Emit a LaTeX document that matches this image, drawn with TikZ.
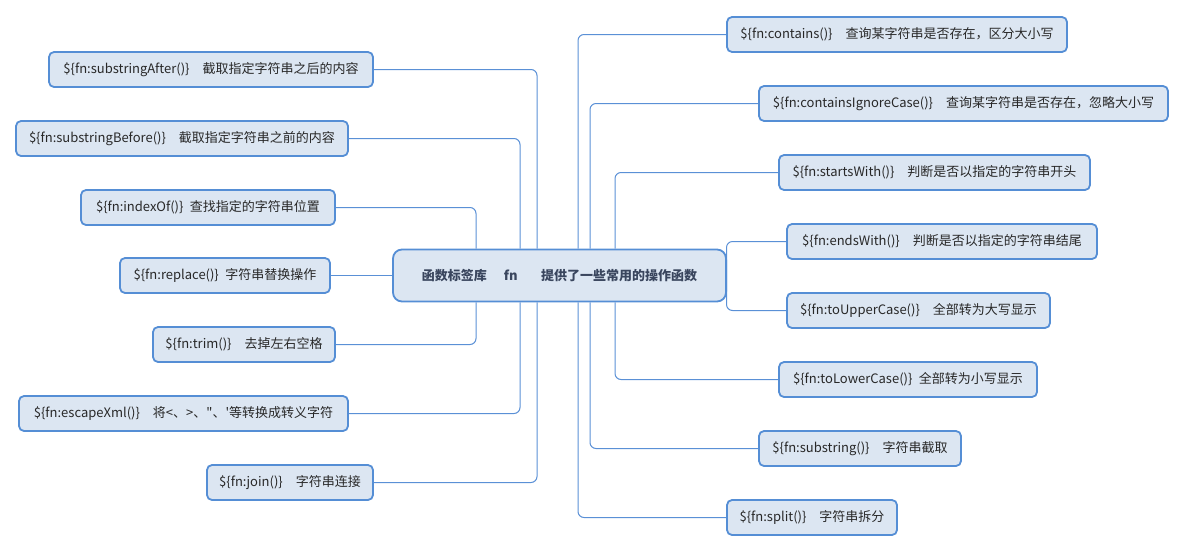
\documentclass[tikz,border=0pt]{standalone}
\usepackage{fontspec}
\setmainfont{Noto Sans CJK SC}
\usetikzlibrary{backgrounds}

\definecolor{boxfill}{RGB}{220,230,242}
\definecolor{boxline}{RGB}{85,142,213}
\definecolor{linkline}{RGB}{90,144,214}
\definecolor{fntext}{RGB}{40,40,40}
\definecolor{roottext}{RGB}{58,70,94}

\tikzset{every picture/.style={line width=0.75pt},
  fnbox/.style={draw=boxline, line width=1.8pt, fill=boxfill, rounded corners=5pt,
    minimum height=35pt, inner xsep=0pt, text=fntext, font=\fontsize{13}{15}\selectfont},
  rootbox/.style={fnbox, rounded corners=9pt, minimum height=52pt, minimum width=333pt,
    text=roottext, font=\bfseries\fontsize{13}{15}\selectfont},
  link/.style={draw=linkline, line width=1pt, rounded corners=6pt}}

\begin{document}
\begin{tikzpicture}[x=1pt,y=1pt,yscale=-1,xscale=1]

\useasboundingbox (0,0) rectangle (1185,552);

%Rounded Rect root
\node [rootbox] (ctr) at (559.5,275.5) {函数标签库\hspace{1.3em}fn\hspace{1.8em}提供了一些常用的操作函数};

%Rounded Rect left side
\node [fnbox, minimum width=324pt] (fnAfter)   at (211,69.5)    {\$\{fn:substringAfter()\}\quad 截取指定字符串之后的内容};
\node [fnbox, minimum width=332pt] (fnBefore)  at (182,138.5)   {\$\{fn:substringBefore()\}\quad 截取指定字符串之前的内容};
\node [fnbox, minimum width=254pt] (fnIndexOf) at (208,207.5)   {\$\{fn:indexOf()\}\enspace 查找指定的字符串位置};
\node [fnbox, minimum width=210pt] (fnReplace) at (225,275.5)   {\$\{fn:replace()\}\enspace 字符串替换操作};
\node [fnbox, minimum width=182pt] (fnTrim)    at (244,344.5)   {\$\{fn:trim()\}\quad 去掉左右空格};
\node [fnbox, minimum width=329pt] (fnEscape)  at (183.5,413.5) {\$\{fn:escapeXml()\}\quad 将<、>、\textquotedbl 、\textquotesingle 等转换成转义字符};
\node [fnbox, minimum width=166pt] (fnJoin)    at (290,482.5)   {\$\{fn:join()\}\quad 字符串连接};

%Rounded Rect right side
\node [fnbox, minimum width=340pt] (fnContains) at (897,34.5)    {\$\{fn:contains()\}\quad 查询某字符串是否存在，区分大小写};
\node [fnbox, minimum width=409pt] (fnIgnore)   at (963.5,103.5) {\$\{fn:containsIgnoreCase()\}\quad 查询某字符串是否存在，忽略大小写};
\node [fnbox, minimum width=311pt] (fnStarts)   at (934.5,172.5) {\$\{fn:startsWith()\}\quad 判断是否以指定的字符串开头};
\node [fnbox, minimum width=310pt] (fnEnds)     at (942,241.5)   {\$\{fn:endsWith()\}\quad 判断是否以指定的字符串结尾};
\node [fnbox, minimum width=263pt] (fnUpper)    at (918.5,310.5) {\$\{fn:toUpperCase()\}\quad 全部转为大写显示};
\node [fnbox, minimum width=258pt] (fnLower)    at (908,379.5)   {\$\{fn:toLowerCase()\}\enspace 全部转为小写显示};
\node [fnbox, minimum width=202pt] (fnSub)      at (860,448.5)   {\$\{fn:substring()\}\quad 字符串截取};
\node [fnbox, minimum width=170pt] (fnSplit)    at (812,517.5)   {\$\{fn:split()\}\quad 字符串拆分};

%Straight Lines
\begin{scope}[on background layer]
\draw [link] ([xshift=-22.5pt]ctr.north) |- (fnAfter.east);
\draw [link] ([xshift=-39.5pt]ctr.north) |- (fnBefore.east);
\draw [link] ([xshift=-83.5pt]ctr.north) |- (fnIndexOf.east);
\draw [link] (ctr.west) -- (fnReplace.east);
\draw [link] ([xshift=-83.5pt]ctr.south) |- (fnTrim.east);
\draw [link] ([xshift=-39.5pt]ctr.south) |- (fnEscape.east);
\draw [link] ([xshift=-22.5pt]ctr.south) |- (fnJoin.east);

\draw [link] ([xshift=18.5pt]ctr.north) |- (fnContains.west);
\draw [link] ([xshift=30.5pt]ctr.north) |- (fnIgnore.west);
\draw [link] ([xshift=55.5pt]ctr.north) |- (fnStarts.west);
\draw [link] ([xshift=-0.4pt,yshift=16pt]ctr.east) |- (fnEnds.west);
\draw [link] ([xshift=-0.4pt,yshift=-16pt]ctr.east) |- (fnUpper.west);
\draw [link] ([xshift=55.5pt]ctr.south) |- (fnLower.west);
\draw [link] ([xshift=30.5pt]ctr.south) |- (fnSub.west);
\draw [link] ([xshift=18.5pt]ctr.south) |- (fnSplit.west);
\end{scope}

\end{tikzpicture}
\end{document}
